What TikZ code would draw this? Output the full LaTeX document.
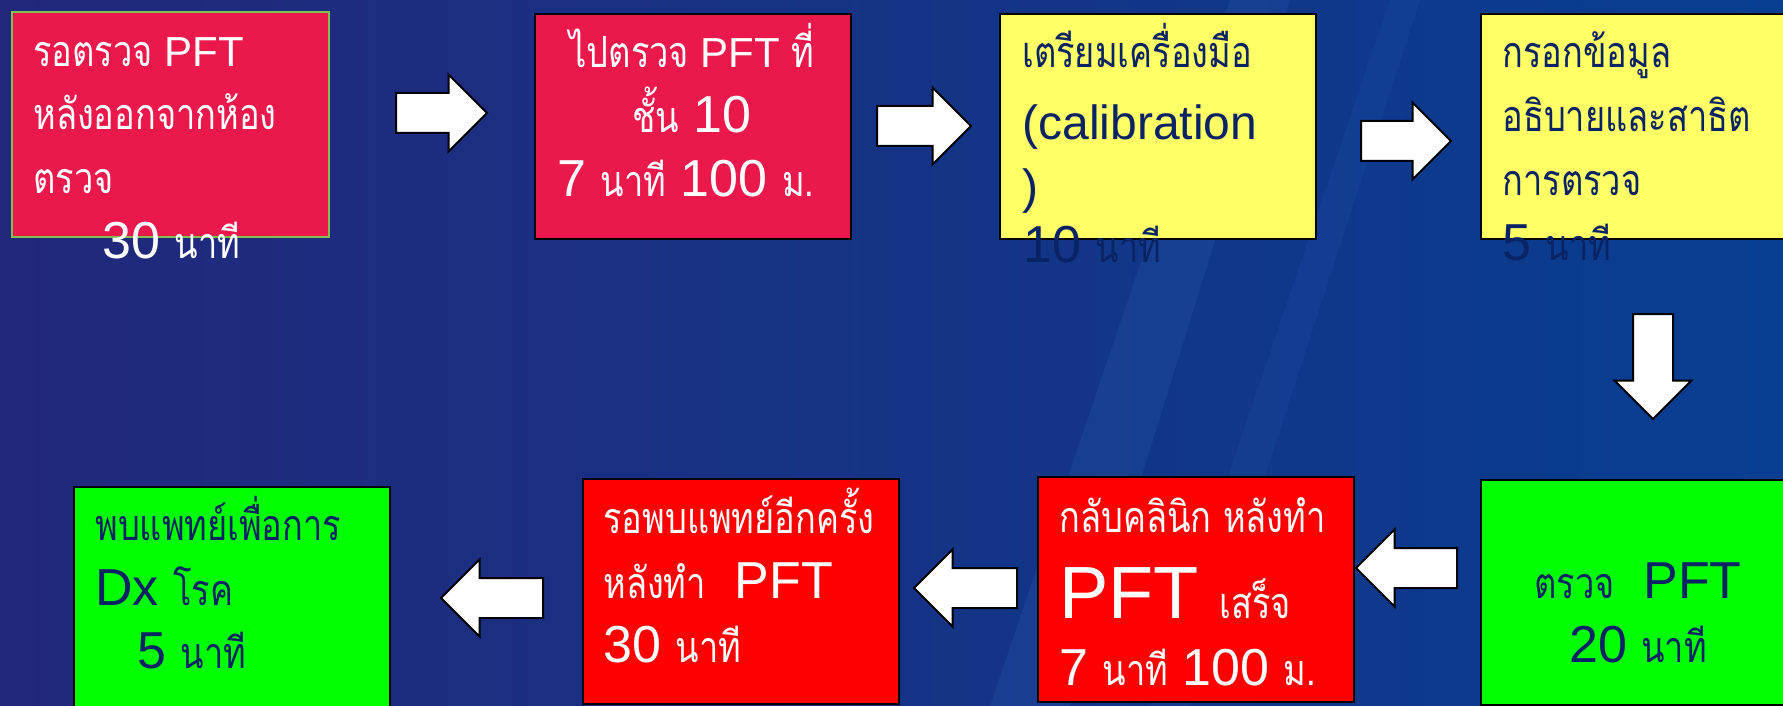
\documentclass[tikz,border=0pt]{standalone}
\usepackage{fontspec}
\setmainfont{Liberation Sans}
\newfontfamily\thaifont[Script=Thai, FakeStretch=0.8]{Loma}
\newcommand{\thai}[1]{{\thaifont\fontsize{21.5}{26}\selectfont #1}}
\usetikzlibrary{shapes.arrows}

\definecolor{bgleft}{RGB}{34,40,122}
\definecolor{bgright}{RGB}{8,62,145}
\definecolor{streak}{RGB}{70,130,210}
\definecolor{crimson}{RGB}{235,25,75}
\definecolor{boxline}{RGB}{130,190,80}
\definecolor{paleyellow}{RGB}{255,255,102}
\definecolor{navy}{RGB}{10,35,100}

\tikzset{
  stepbox/.style={rectangle, draw=black, line width=1pt, anchor=north west,
    minimum width=158pt, minimum height=112.5pt, inner sep=0},
  pinkbox/.style={stepbox, fill=crimson},
  yellowbox/.style={stepbox, fill=paleyellow},
  redbox/.style={stepbox, fill=red},
  greenbox/.style={stepbox, fill=green},
  blockarrow/.style={single arrow, draw=black, fill=white, line width=1pt,
    inner xsep=0pt, inner ysep=9.5pt, single arrow head extend=9.25pt, anchor=tail},
  txt/.style={anchor=base west, inner sep=0},
  ctxt/.style={anchor=base, inner sep=0},
  sz1/.style={font=\fontsize{21}{25}\selectfont},
  sz2/.style={font=\fontsize{26}{31}\selectfont},
  sz3/.style={font=\fontsize{24}{29}\selectfont},
  sz4/.style={font=\fontsize{37}{44}\selectfont}
}

\begin{document}
\begin{tikzpicture}[x=0.5pt, y=-0.5pt]
  \useasboundingbox (0,0) rectangle (1783,706);
  % background
  \fill[left color=bgleft, right color=bgright] (0,0) rectangle (1783,706);
  \fill[streak, opacity=0.12] (1230,0) -- (1290,0) -- (1070,706) -- (990,706) -- cycle;
  \fill[streak, opacity=0.08] (1390,0) -- (1420,0) -- (1190,706) -- (1150,706) -- cycle;

  % top row
  \node[pinkbox, draw=boxline, line width=0.9pt, minimum width=158.5pt] (b1) at (11,11) {};
  \node[pinkbox] (b2) at (534,13) {};
  \node[yellowbox] (b3) at (999,13) {};
  \node[yellowbox] (b4) at (1480,13) {};

  % bottom row
  \node[greenbox] (b5) at (1480,479) {};
  \node[redbox] (b6) at (1037,476) {};
  \node[redbox] (b7) at (582,478) {};
  \node[greenbox] (b8) at (73,486) {};

  % arrows (placed by their tails)
  \node[blockarrow, minimum height=45.5pt] (a1) at (395,113) {};
  \node[blockarrow, minimum height=47pt] (a2) at (876,126) {};
  \node[blockarrow, minimum height=45pt] (a3) at (1360,141) {};
  \node[blockarrow, minimum height=52.5pt, rotate=-90] (a4) at (1653,313) {};
  \node[blockarrow, minimum height=50.5pt, rotate=180] (a5) at (1458,568) {};
  \node[blockarrow, minimum height=51.5pt, rotate=180] (a6) at (1018,588) {};
  \node[blockarrow, minimum height=51pt, rotate=180] (a7) at (544,598) {};

  % box texts
  \node[txt, sz1, white] (t1a) at (33,67) {\thai{รอตรวจ} PFT};
  \node[txt, white] (t1b) at (33,130) {\thai{หลังออกจากห้อง}};
  \node[txt, white] (t1c) at (33,193) {\thai{ตรวจ}};
  \node[txt, sz2, white] (t1d) at (102,258) {30 \thai{นาที}};

  \node[ctxt, sz1, white] (t2a) at (692,68) {\thai{ไปตรวจ} PFT \thai{ที่}};
  \node[ctxt, sz2, white] (t2b) at (692,133) {\thai{ชั้น} 10};
  \node[ctxt, sz2, white] (t2c) at (686,197) {7 \thai{นาที} 100 \thai{ม.}};

  \node[txt, navy] (t3a) at (1022,68) {\thai{เตรียมเครื่องมือ}};
  \node[txt, sz3, navy] (t3b) at (1022,140) {(calibration};
  \node[txt, sz3, navy] (t3c) at (1022,203) {)};
  \node[txt, sz2, navy] (t3d) at (1023,262) {10 \thai{นาที}};

  \node[txt, navy] (t4a) at (1502,68) {\thai{กรอกข้อมูล}};
  \node[txt, navy] (t4b) at (1502,132) {\thai{อธิบายและสาธิต}};
  \node[txt, navy] (t4c) at (1502,195) {\thai{การตรวจ}};
  \node[txt, sz2, navy] (t4d) at (1502,260) {5 \thai{นาที}};

  \node[ctxt, sz2, navy] (t5a) at (1638,598) {\thai{ตรวจ}~~PFT};
  \node[ctxt, sz2, navy] (t5b) at (1638,662) {20 \thai{นาที}};

  \node[txt, white] (t6a) at (1059,532) {\thai{กลับคลินิก หลังทำ}};
  \node[txt, sz4, white] (t6b) at (1059,618) {PFT \thai{เสร็จ}};
  \node[txt, sz2, white] (t6c) at (1059,685) {7 \thai{นาที} 100 \thai{ม.}};

  \node[txt, white] (t7a) at (603,533) {\thai{รอพบแพทย์อีกครั้ง}};
  \node[txt, sz2, white] (t7b) at (603,598) {\thai{หลังทำ}~~PFT};
  \node[txt, sz2, white] (t7c) at (603,662) {30 \thai{นาที}};

  \node[txt, navy] (t8a) at (95,540) {\thai{พบแพทย์เพื่อการ}};
  \node[txt, sz2, navy] (t8b) at (95,605) {Dx \thai{โรค}};
  \node[txt, sz2, navy] (t8c) at (137,668) {5 \thai{นาที}};
\end{tikzpicture}
\end{document}
